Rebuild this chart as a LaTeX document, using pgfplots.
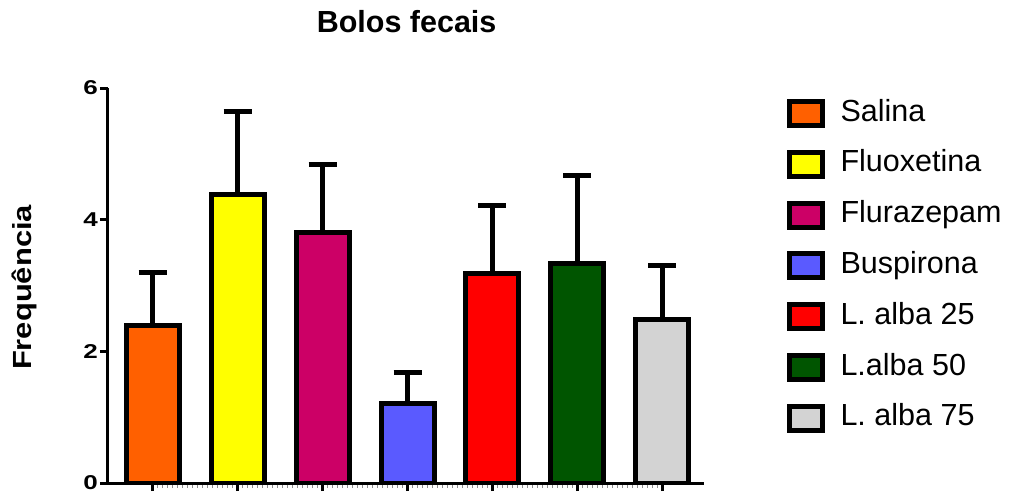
\documentclass[border=0pt]{standalone}
\usepackage{pgfplots}
\pgfplotsset{compat=1.18}
\usepackage{fontspec}
\setmainfont{Liberation Sans}
\definecolor{cSal}{RGB}{255,96,0}
\definecolor{cFlu}{RGB}{255,255,0}
\definecolor{cFlz}{RGB}{204,0,102}
\definecolor{cBus}{RGB}{90,90,255}
\definecolor{cL25}{RGB}{255,0,0}
\definecolor{cL50}{RGB}{0,85,0}
\definecolor{cL75}{RGB}{211,211,211}
\begin{document}
\begin{tikzpicture}
\useasboundingbox (0,0) rectangle (1014pt,491pt);
\begin{axis}[
  at={(108pt,8pt)}, anchor=south west,
  scale only axis, width=596pt, height=395pt,
  xmin=-0.526, xmax=6.49, ymin=0, ymax=6,
  axis lines*=left,
  axis line style={line width=3pt, black, -},
  ytick={0,2,4,6}, xtick={0,...,6}, xticklabels={},
  tick align=outside, major tick length=8pt,
  major tick style={line width=3pt, black},
  minor x tick num=16, minor tick length=5pt,
  minor tick style={line width=0.8pt, black!45},
  /pgf/number format/assume math mode=true,
  yticklabel={\scalebox{1.3}[1]{\pgfmathprintnumber{\tick}}},
  yticklabel style={font=\bfseries\fontsize{20}{22}\selectfont, inner xsep=2pt},
  title={Bolos fecais},
  title style={font=\bfseries\fontsize{30.5}{32}\selectfont, at={(axis description cs:0.501,1.126)}, anchor=base},
  ylabel={\scalebox{1.18}[1]{Frequência}},
  ylabel style={font=\bfseries\fontsize{26.2}{28}\selectfont, at={(axis description cs:-0.141,0.495)}, anchor=center},
  ybar, bar width=53pt, bar shift=0pt,
  legend image code/.code={\draw[#1,/tikz/.cd,line width=5pt] (0pt,-12pt) rectangle (33pt,12pt); \path[draw=none,fill=none] (-2.5pt,0pt) -- (51pt,0pt);},
  legend cell align=left,
  legend style={at={(axis description cs:1.1393,0.972)}, anchor=north west, draw=none, fill=none, inner sep=0pt, outer sep=0pt, row sep=21.8pt, column sep=0pt, font=\fontsize{30.5}{30.5}\selectfont, nodes={inner sep=0pt, text height=22pt, text depth=7pt}},
  every axis plot/.append style={draw=black, line width=5pt,
    error bars/y dir=plus, error bars/y explicit,
    error bars/error bar style={line width=5pt, black},
    error bars/error mark options={rotate=90, line width=5pt, mark size=14pt, black}},
]
\addplot[fill=cSal] coordinates {(0,2.40) +- (0,0.80)};
\addlegendentry{Salina}
\addplot[fill=cFlu] coordinates {(1,4.375) +- (0,1.275)};
\addlegendentry{Fluoxetina}
\addplot[fill=cFlz] coordinates {(2,3.81) +- (0,1.03)};
\addlegendentry{Flurazepam}
\addplot[fill=cBus] coordinates {(3,1.21) +- (0,0.47)};
\addlegendentry{Buspirona}
\addplot[fill=cL25] coordinates {(4,3.185) +- (0,1.03)};
\addlegendentry{L. alba 25}
\addplot[fill=cL50] coordinates {(5,3.34) +- (0,1.33)};
\addlegendentry{L.alba 50}
\addplot[fill=cL75] coordinates {(6,2.49) +- (0,0.81)};
\addlegendentry{L. alba 75}
\end{axis}
\end{tikzpicture}
\end{document}
